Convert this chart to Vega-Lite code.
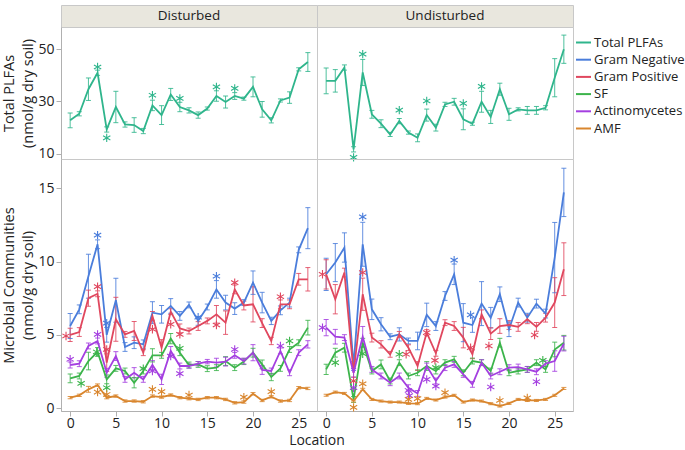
{
"$schema":"https://vega.github.io/schema/vega-lite/v6.json",
"padding":{"left":1,"top":4,"right":0,"bottom":0},
"config":{
 "font":"Open Sans",
 "view":{"stroke":"#c8c8c8"},
 "axis":{"grid":false,"domainColor":"#b0b0b0","tickColor":"#b0b0b0","labelColor":"#222","labelFontSize":14,"titleFontSize":14.5,"titleLineHeight":19,"titleFontWeight":"normal","titleColor":"#222","tickSize":5,"labelPadding":2,"titlePadding":2},
 "axisX":{"labelPadding":0}
},
"datasets":{
"tot":[
{"c":"D","x":0,"v":22.8,"lo":20.0,"hi":25.6},{"c":"D","x":1,"v":25.3,"lo":24.5,"hi":26.1},{"c":"D","x":2,"v":34.7,"lo":30.4,"hi":39.0},{"c":"D","x":3,"v":41.0,"lo":40.0,"hi":42.0},{"c":"D","x":4,"v":19.3,"lo":18.3,"hi":20.3},{"c":"D","x":5,"v":27.9,"lo":21.9,"hi":33.9},{"c":"D","x":6,"v":21.2,"lo":20.2,"hi":22.2},{"c":"D","x":7,"v":21.0,"lo":18.2,"hi":23.8},{"c":"D","x":8,"v":18.7,"lo":17.7,"hi":19.7},{"c":"D","x":9,"v":28.5,"lo":26.5,"hi":30.5},{"c":"D","x":10,"v":24.8,"lo":21.2,"hi":28.4},{"c":"D","x":11,"v":32.7,"lo":30.4,"hi":35.0},{"c":"D","x":12,"v":27.9,"lo":26.1,"hi":29.7},{"c":"D","x":13,"v":26.6,"lo":25.6,"hi":27.6},{"c":"D","x":14,"v":24.8,"lo":23.6,"hi":26.0},{"c":"D","x":15,"v":27.3,"lo":26.7,"hi":27.9},{"c":"D","x":16,"v":32.1,"lo":30.1,"hi":34.1},{"c":"D","x":17,"v":29.8,"lo":27.5,"hi":32.1},{"c":"D","x":18,"v":32.1,"lo":30.8,"hi":33.4},{"c":"D","x":19,"v":31.1,"lo":30.5,"hi":31.7},{"c":"D","x":20,"v":35.6,"lo":31.8,"hi":39.4},{"c":"D","x":21,"v":27.0,"lo":24.0,"hi":30.0},{"c":"D","x":22,"v":22.8,"lo":21.8,"hi":23.8},{"c":"D","x":23,"v":30.4,"lo":29.8,"hi":31.0},{"c":"D","x":24,"v":31.5,"lo":29.3,"hi":33.7},{"c":"D","x":25,"v":42.3,"lo":41.7,"hi":42.9},{"c":"D","x":26,"v":45.1,"lo":41.5,"hi":48.7},
{"c":"U","x":0,"v":37.9,"lo":33.0,"hi":42.8},{"c":"U","x":1,"v":37.9,"lo":33.6,"hi":42.2},{"c":"U","x":2,"v":43.0,"lo":42.0,"hi":44.0},{"c":"U","x":3,"v":11.7,"lo":10.7,"hi":12.7},{"c":"U","x":4,"v":41.1,"lo":36.1,"hi":46.1},{"c":"U","x":5,"v":25.1,"lo":23.6,"hi":26.6},{"c":"U","x":6,"v":21.5,"lo":20.0,"hi":23.0},{"c":"U","x":7,"v":17.4,"lo":16.6,"hi":18.2},{"c":"U","x":8,"v":22.5,"lo":21.5,"hi":23.5},{"c":"U","x":9,"v":18.1,"lo":17.5,"hi":18.7},{"c":"U","x":10,"v":16.1,"lo":14.6,"hi":17.6},{"c":"U","x":11,"v":24.8,"lo":22.5,"hi":27.1},{"c":"U","x":12,"v":20.0,"lo":18.7,"hi":21.3},{"c":"U","x":13,"v":28.9,"lo":28.1,"hi":29.7},{"c":"U","x":14,"v":29.9,"lo":28.6,"hi":31.2},{"c":"U","x":15,"v":23.2,"lo":19.2,"hi":27.2},{"c":"U","x":16,"v":21.5,"lo":20.9,"hi":22.1},{"c":"U","x":17,"v":29.9,"lo":25.9,"hi":33.9},{"c":"U","x":18,"v":24.1,"lo":21.6,"hi":26.6},{"c":"U","x":19,"v":34.7,"lo":32.4,"hi":37.0},{"c":"U","x":20,"v":25.1,"lo":22.8,"hi":27.4},{"c":"U","x":21,"v":27.0,"lo":26.4,"hi":27.6},{"c":"U","x":22,"v":26.6,"lo":25.1,"hi":28.1},{"c":"U","x":23,"v":26.6,"lo":25.1,"hi":28.1},{"c":"U","x":24,"v":27.6,"lo":26.8,"hi":28.4},{"c":"U","x":25,"v":39.1,"lo":31.8,"hi":46.4},{"c":"U","x":26,"v":50.0,"lo":44.6,"hi":55.4}
],
"com":[
{"c":"D","s":"Gram Negative","x":0,"v":5.6,"lo":4.75,"hi":6.45},{"c":"D","s":"Gram Negative","x":1,"v":6.74,"lo":6.44,"hi":7.04},{"c":"D","s":"Gram Negative","x":2,"v":9.0,"lo":7.5,"hi":10.5},{"c":"D","s":"Gram Negative","x":3,"v":11.18,"lo":10.88,"hi":11.48},{"c":"D","s":"Gram Negative","x":4,"v":5.0,"lo":4.5,"hi":5.5},{"c":"D","s":"Gram Negative","x":5,"v":7.36,"lo":5.86,"hi":8.86},{"c":"D","s":"Gram Negative","x":6,"v":4.17,"lo":3.87,"hi":4.47},{"c":"D","s":"Gram Negative","x":7,"v":4.46,"lo":4.06,"hi":4.86},{"c":"D","s":"Gram Negative","x":8,"v":4.35,"lo":4.05,"hi":4.65},{"c":"D","s":"Gram Negative","x":9,"v":6.51,"lo":5.76,"hi":7.26},{"c":"D","s":"Gram Negative","x":10,"v":6.4,"lo":5.8,"hi":7.0},{"c":"D","s":"Gram Negative","x":11,"v":6.97,"lo":6.47,"hi":7.47},{"c":"D","s":"Gram Negative","x":12,"v":6.29,"lo":5.99,"hi":6.59},{"c":"D","s":"Gram Negative","x":13,"v":7.04,"lo":6.84,"hi":7.24},{"c":"D","s":"Gram Negative","x":14,"v":5.95,"lo":5.65,"hi":6.25},{"c":"D","s":"Gram Negative","x":15,"v":6.9,"lo":6.7,"hi":7.1},{"c":"D","s":"Gram Negative","x":16,"v":8.1,"lo":7.5,"hi":8.7},{"c":"D","s":"Gram Negative","x":17,"v":7.2,"lo":6.7,"hi":7.7},{"c":"D","s":"Gram Negative","x":18,"v":6.79,"lo":6.39,"hi":7.19},{"c":"D","s":"Gram Negative","x":19,"v":7.2,"lo":7.0,"hi":7.4},{"c":"D","s":"Gram Negative","x":20,"v":8.56,"lo":7.76,"hi":9.36},{"c":"D","s":"Gram Negative","x":21,"v":7.2,"lo":6.5,"hi":7.9},{"c":"D","s":"Gram Negative","x":22,"v":5.95,"lo":5.7,"hi":6.2},{"c":"D","s":"Gram Negative","x":23,"v":6.67,"lo":6.37,"hi":6.97},{"c":"D","s":"Gram Negative","x":24,"v":7.2,"lo":6.9,"hi":7.5},{"c":"D","s":"Gram Negative","x":25,"v":10.8,"lo":10.6,"hi":11.0},{"c":"D","s":"Gram Negative","x":26,"v":12.28,"lo":10.88,"hi":13.68},
{"c":"D","s":"Gram Positive","x":0,"v":4.99,"lo":4.54,"hi":5.44},{"c":"D","s":"Gram Positive","x":1,"v":5.19,"lo":4.89,"hi":5.49},{"c":"D","s":"Gram Positive","x":2,"v":7.5,"lo":6.95,"hi":8.05},{"c":"D","s":"Gram Positive","x":3,"v":7.8,"lo":7.6,"hi":8.0},{"c":"D","s":"Gram Positive","x":4,"v":3.1,"lo":2.5,"hi":3.7},{"c":"D","s":"Gram Positive","x":5,"v":6.06,"lo":4.56,"hi":7.56},{"c":"D","s":"Gram Positive","x":6,"v":5.03,"lo":4.83,"hi":5.23},{"c":"D","s":"Gram Positive","x":7,"v":5.26,"lo":4.61,"hi":5.91},{"c":"D","s":"Gram Positive","x":8,"v":3.78,"lo":3.58,"hi":3.98},{"c":"D","s":"Gram Positive","x":9,"v":6.29,"lo":5.99,"hi":6.59},{"c":"D","s":"Gram Positive","x":10,"v":4.12,"lo":3.57,"hi":4.67},{"c":"D","s":"Gram Positive","x":11,"v":6.58,"lo":6.38,"hi":6.78},{"c":"D","s":"Gram Positive","x":12,"v":5.44,"lo":5.14,"hi":5.74},{"c":"D","s":"Gram Positive","x":13,"v":5.26,"lo":5.06,"hi":5.46},{"c":"D","s":"Gram Positive","x":14,"v":5.6,"lo":5.3,"hi":5.9},{"c":"D","s":"Gram Positive","x":15,"v":5.95,"lo":5.75,"hi":6.15},{"c":"D","s":"Gram Positive","x":16,"v":6.4,"lo":5.8,"hi":7.0},{"c":"D","s":"Gram Positive","x":17,"v":5.83,"lo":5.03,"hi":6.63},{"c":"D","s":"Gram Positive","x":18,"v":8.1,"lo":7.8,"hi":8.4},{"c":"D","s":"Gram Positive","x":19,"v":7.0,"lo":6.7,"hi":7.3},{"c":"D","s":"Gram Positive","x":20,"v":7.08,"lo":5.88,"hi":8.28},{"c":"D","s":"Gram Positive","x":21,"v":5.8,"lo":5.5,"hi":6.1},{"c":"D","s":"Gram Positive","x":22,"v":4.58,"lo":4.33,"hi":4.83},{"c":"D","s":"Gram Positive","x":23,"v":7.08,"lo":6.78,"hi":7.38},{"c":"D","s":"Gram Positive","x":24,"v":7.08,"lo":6.78,"hi":7.38},{"c":"D","s":"Gram Positive","x":25,"v":8.79,"lo":8.39,"hi":9.19},{"c":"D","s":"Gram Positive","x":26,"v":8.79,"lo":7.99,"hi":9.59},
{"c":"D","s":"SF","x":0,"v":2.03,"lo":1.73,"hi":2.33},{"c":"D","s":"SF","x":1,"v":2.19,"lo":1.99,"hi":2.39},{"c":"D","s":"SF","x":2,"v":3.21,"lo":2.61,"hi":3.81},{"c":"D","s":"SF","x":3,"v":3.83,"lo":3.53,"hi":4.13},{"c":"D","s":"SF","x":4,"v":1.96,"lo":1.66,"hi":2.26},{"c":"D","s":"SF","x":5,"v":2.71,"lo":2.51,"hi":2.91},{"c":"D","s":"SF","x":6,"v":2.53,"lo":2.33,"hi":2.73},{"c":"D","s":"SF","x":7,"v":1.73,"lo":1.38,"hi":2.08},{"c":"D","s":"SF","x":8,"v":2.53,"lo":2.33,"hi":2.73},{"c":"D","s":"SF","x":9,"v":3.6,"lo":3.15,"hi":4.05},{"c":"D","s":"SF","x":10,"v":3.6,"lo":3.4,"hi":3.8},{"c":"D","s":"SF","x":11,"v":4.74,"lo":4.39,"hi":5.09},{"c":"D","s":"SF","x":12,"v":3.78,"lo":3.58,"hi":3.98},{"c":"D","s":"SF","x":13,"v":2.94,"lo":2.74,"hi":3.14},{"c":"D","s":"SF","x":14,"v":2.98,"lo":2.78,"hi":3.18},{"c":"D","s":"SF","x":15,"v":2.69,"lo":2.49,"hi":2.89},{"c":"D","s":"SF","x":16,"v":2.76,"lo":2.56,"hi":2.96},{"c":"D","s":"SF","x":17,"v":3.21,"lo":2.91,"hi":3.51},{"c":"D","s":"SF","x":18,"v":2.76,"lo":2.56,"hi":2.96},{"c":"D","s":"SF","x":19,"v":3.17,"lo":2.97,"hi":3.37},{"c":"D","s":"SF","x":20,"v":3.78,"lo":3.48,"hi":4.08},{"c":"D","s":"SF","x":21,"v":2.98,"lo":2.68,"hi":3.28},{"c":"D","s":"SF","x":22,"v":2.12,"lo":1.87,"hi":2.37},{"c":"D","s":"SF","x":23,"v":2.71,"lo":2.51,"hi":2.91},{"c":"D","s":"SF","x":24,"v":4.0,"lo":3.8,"hi":4.2},{"c":"D","s":"SF","x":25,"v":4.46,"lo":4.26,"hi":4.66},{"c":"D","s":"SF","x":26,"v":5.49,"lo":4.99,"hi":5.99},
{"c":"D","s":"Actinomycetes","x":0,"v":2.94,"lo":2.74,"hi":3.14},{"c":"D","s":"Actinomycetes","x":1,"v":3.03,"lo":2.83,"hi":3.23},{"c":"D","s":"Actinomycetes","x":2,"v":4.24,"lo":4.04,"hi":4.44},{"c":"D","s":"Actinomycetes","x":3,"v":4.58,"lo":4.38,"hi":4.78},{"c":"D","s":"Actinomycetes","x":4,"v":2.41,"lo":2.11,"hi":2.71},{"c":"D","s":"Actinomycetes","x":5,"v":3.55,"lo":3.25,"hi":3.85},{"c":"D","s":"Actinomycetes","x":6,"v":1.96,"lo":1.76,"hi":2.16},{"c":"D","s":"Actinomycetes","x":7,"v":2.41,"lo":2.06,"hi":2.76},{"c":"D","s":"Actinomycetes","x":8,"v":1.96,"lo":1.76,"hi":2.16},{"c":"D","s":"Actinomycetes","x":9,"v":2.94,"lo":2.64,"hi":3.24},{"c":"D","s":"Actinomycetes","x":10,"v":1.96,"lo":1.61,"hi":2.31},{"c":"D","s":"Actinomycetes","x":11,"v":3.9,"lo":3.6,"hi":4.2},{"c":"D","s":"Actinomycetes","x":12,"v":2.87,"lo":2.67,"hi":3.07},{"c":"D","s":"Actinomycetes","x":13,"v":2.87,"lo":2.72,"hi":3.02},{"c":"D","s":"Actinomycetes","x":14,"v":3.03,"lo":2.88,"hi":3.18},{"c":"D","s":"Actinomycetes","x":15,"v":3.17,"lo":3.02,"hi":3.32},{"c":"D","s":"Actinomycetes","x":16,"v":3.1,"lo":2.8,"hi":3.4},{"c":"D","s":"Actinomycetes","x":17,"v":3.17,"lo":2.87,"hi":3.47},{"c":"D","s":"Actinomycetes","x":18,"v":3.6,"lo":3.4,"hi":3.8},{"c":"D","s":"Actinomycetes","x":19,"v":3.21,"lo":3.01,"hi":3.41},{"c":"D","s":"Actinomycetes","x":20,"v":3.78,"lo":3.23,"hi":4.33},{"c":"D","s":"Actinomycetes","x":21,"v":2.6,"lo":2.3,"hi":2.9},{"c":"D","s":"Actinomycetes","x":22,"v":2.53,"lo":2.33,"hi":2.73},{"c":"D","s":"Actinomycetes","x":23,"v":3.9,"lo":3.7,"hi":4.1},{"c":"D","s":"Actinomycetes","x":24,"v":2.41,"lo":2.21,"hi":2.61},{"c":"D","s":"Actinomycetes","x":25,"v":3.78,"lo":3.58,"hi":3.98},{"c":"D","s":"Actinomycetes","x":26,"v":4.35,"lo":4.1,"hi":4.6},
{"c":"D","s":"AMF","x":0,"v":0.71,"lo":0.63,"hi":0.79},{"c":"D","s":"AMF","x":1,"v":0.87,"lo":0.79,"hi":0.95},{"c":"D","s":"AMF","x":2,"v":1.28,"lo":1.08,"hi":1.48},{"c":"D","s":"AMF","x":3,"v":1.57,"lo":1.49,"hi":1.65},{"c":"D","s":"AMF","x":4,"v":0.71,"lo":0.63,"hi":0.79},{"c":"D","s":"AMF","x":5,"v":0.82,"lo":0.74,"hi":0.9},{"c":"D","s":"AMF","x":6,"v":0.48,"lo":0.4,"hi":0.56},{"c":"D","s":"AMF","x":7,"v":0.48,"lo":0.4,"hi":0.56},{"c":"D","s":"AMF","x":8,"v":0.43,"lo":0.35,"hi":0.51},{"c":"D","s":"AMF","x":9,"v":0.82,"lo":0.74,"hi":0.9},{"c":"D","s":"AMF","x":10,"v":0.75,"lo":0.67,"hi":0.83},{"c":"D","s":"AMF","x":11,"v":0.89,"lo":0.81,"hi":0.97},{"c":"D","s":"AMF","x":12,"v":0.71,"lo":0.63,"hi":0.79},{"c":"D","s":"AMF","x":13,"v":0.64,"lo":0.56,"hi":0.72},{"c":"D","s":"AMF","x":14,"v":0.59,"lo":0.51,"hi":0.67},{"c":"D","s":"AMF","x":15,"v":0.71,"lo":0.63,"hi":0.79},{"c":"D","s":"AMF","x":16,"v":0.71,"lo":0.63,"hi":0.79},{"c":"D","s":"AMF","x":17,"v":0.59,"lo":0.51,"hi":0.67},{"c":"D","s":"AMF","x":18,"v":0.36,"lo":0.28,"hi":0.44},{"c":"D","s":"AMF","x":19,"v":0.41,"lo":0.33,"hi":0.49},{"c":"D","s":"AMF","x":20,"v":0.98,"lo":0.9,"hi":1.06},{"c":"D","s":"AMF","x":21,"v":0.52,"lo":0.44,"hi":0.6},{"c":"D","s":"AMF","x":22,"v":0.77,"lo":0.69,"hi":0.85},{"c":"D","s":"AMF","x":23,"v":0.48,"lo":0.4,"hi":0.56},{"c":"D","s":"AMF","x":24,"v":0.52,"lo":0.44,"hi":0.6},{"c":"D","s":"AMF","x":25,"v":1.39,"lo":1.31,"hi":1.47},{"c":"D","s":"AMF","x":26,"v":1.34,"lo":1.26,"hi":1.42},
{"c":"U","s":"Gram Negative","x":0,"v":9.13,"lo":8.03,"hi":10.23},{"c":"U","s":"Gram Negative","x":1,"v":9.93,"lo":8.63,"hi":11.23},{"c":"U","s":"Gram Negative","x":2,"v":10.96,"lo":9.96,"hi":11.96},{"c":"U","s":"Gram Negative","x":3,"v":2.87,"lo":2.57,"hi":3.17},{"c":"U","s":"Gram Negative","x":4,"v":11.18,"lo":9.68,"hi":12.68},{"c":"U","s":"Gram Negative","x":5,"v":6.74,"lo":6.04,"hi":7.44},{"c":"U","s":"Gram Negative","x":6,"v":5.72,"lo":5.27,"hi":6.17},{"c":"U","s":"Gram Negative","x":7,"v":4.87,"lo":4.67,"hi":5.07},{"c":"U","s":"Gram Negative","x":8,"v":5.03,"lo":4.58,"hi":5.48},{"c":"U","s":"Gram Negative","x":9,"v":4.58,"lo":4.38,"hi":4.78},{"c":"U","s":"Gram Negative","x":10,"v":4.58,"lo":3.98,"hi":5.18},{"c":"U","s":"Gram Negative","x":11,"v":6.36,"lo":5.56,"hi":7.16},{"c":"U","s":"Gram Negative","x":12,"v":5.6,"lo":5.3,"hi":5.9},{"c":"U","s":"Gram Negative","x":13,"v":7.65,"lo":7.35,"hi":7.95},{"c":"U","s":"Gram Negative","x":14,"v":9.13,"lo":8.43,"hi":9.83},{"c":"U","s":"Gram Negative","x":15,"v":5.83,"lo":4.53,"hi":7.13},{"c":"U","s":"Gram Negative","x":16,"v":5.67,"lo":5.17,"hi":6.17},{"c":"U","s":"Gram Negative","x":17,"v":7.13,"lo":5.63,"hi":8.63},{"c":"U","s":"Gram Negative","x":18,"v":6.17,"lo":5.47,"hi":6.87},{"c":"U","s":"Gram Negative","x":19,"v":7.77,"lo":7.27,"hi":8.27},{"c":"U","s":"Gram Negative","x":20,"v":5.38,"lo":4.88,"hi":5.88},{"c":"U","s":"Gram Negative","x":21,"v":7.2,"lo":6.9,"hi":7.5},{"c":"U","s":"Gram Negative","x":22,"v":6.17,"lo":5.87,"hi":6.47},{"c":"U","s":"Gram Negative","x":23,"v":7.13,"lo":6.83,"hi":7.43},{"c":"U","s":"Gram Negative","x":24,"v":6.45,"lo":6.15,"hi":6.75},{"c":"U","s":"Gram Negative","x":25,"v":10.27,"lo":7.87,"hi":12.67},{"c":"U","s":"Gram Negative","x":26,"v":14.72,"lo":13.07,"hi":16.37},
{"c":"U","s":"Gram Positive","x":0,"v":9.13,"lo":8.13,"hi":10.13},{"c":"U","s":"Gram Positive","x":1,"v":7.43,"lo":6.43,"hi":8.43},{"c":"U","s":"Gram Positive","x":2,"v":9.25,"lo":8.95,"hi":9.55},{"c":"U","s":"Gram Positive","x":3,"v":2.41,"lo":2.11,"hi":2.71},{"c":"U","s":"Gram Positive","x":4,"v":7.77,"lo":6.67,"hi":8.87},{"c":"U","s":"Gram Positive","x":5,"v":4.81,"lo":4.51,"hi":5.11},{"c":"U","s":"Gram Positive","x":6,"v":4.35,"lo":4.1,"hi":4.6},{"c":"U","s":"Gram Positive","x":7,"v":3.67,"lo":3.47,"hi":3.87},{"c":"U","s":"Gram Positive","x":8,"v":5.03,"lo":4.83,"hi":5.23},{"c":"U","s":"Gram Positive","x":9,"v":4.12,"lo":3.92,"hi":4.32},{"c":"U","s":"Gram Positive","x":10,"v":2.87,"lo":2.57,"hi":3.17},{"c":"U","s":"Gram Positive","x":11,"v":5.15,"lo":4.95,"hi":5.35},{"c":"U","s":"Gram Positive","x":12,"v":3.74,"lo":3.54,"hi":3.94},{"c":"U","s":"Gram Positive","x":13,"v":5.83,"lo":5.63,"hi":6.03},{"c":"U","s":"Gram Positive","x":14,"v":5.6,"lo":5.3,"hi":5.9},{"c":"U","s":"Gram Positive","x":15,"v":4.81,"lo":4.11,"hi":5.51},{"c":"U","s":"Gram Positive","x":16,"v":3.67,"lo":3.37,"hi":3.97},{"c":"U","s":"Gram Positive","x":17,"v":6.4,"lo":6.1,"hi":6.7},{"c":"U","s":"Gram Positive","x":18,"v":5.08,"lo":4.68,"hi":5.48},{"c":"U","s":"Gram Positive","x":19,"v":5.6,"lo":5.1,"hi":6.1},{"c":"U","s":"Gram Positive","x":20,"v":5.67,"lo":5.37,"hi":5.97},{"c":"U","s":"Gram Positive","x":21,"v":5.54,"lo":5.24,"hi":5.84},{"c":"U","s":"Gram Positive","x":22,"v":6.06,"lo":5.76,"hi":6.36},{"c":"U","s":"Gram Positive","x":23,"v":5.54,"lo":5.24,"hi":5.84},{"c":"U","s":"Gram Positive","x":24,"v":6.17,"lo":5.87,"hi":6.47},{"c":"U","s":"Gram Positive","x":25,"v":7.2,"lo":5.5,"hi":8.9},{"c":"U","s":"Gram Positive","x":26,"v":9.48,"lo":7.68,"hi":11.28},
{"c":"U","s":"SF","x":0,"v":2.64,"lo":2.29,"hi":2.99},{"c":"U","s":"SF","x":1,"v":3.78,"lo":3.48,"hi":4.08},{"c":"U","s":"SF","x":2,"v":4.12,"lo":3.82,"hi":4.42},{"c":"U","s":"SF","x":3,"v":0.59,"lo":0.39,"hi":0.79},{"c":"U","s":"SF","x":4,"v":4.46,"lo":4.16,"hi":4.76},{"c":"U","s":"SF","x":5,"v":2.53,"lo":2.33,"hi":2.73},{"c":"U","s":"SF","x":6,"v":2.98,"lo":2.68,"hi":3.28},{"c":"U","s":"SF","x":7,"v":1.85,"lo":1.65,"hi":2.05},{"c":"U","s":"SF","x":8,"v":3.1,"lo":2.9,"hi":3.3},{"c":"U","s":"SF","x":9,"v":2.19,"lo":1.99,"hi":2.39},{"c":"U","s":"SF","x":10,"v":2.41,"lo":2.21,"hi":2.61},{"c":"U","s":"SF","x":11,"v":2.87,"lo":2.57,"hi":3.17},{"c":"U","s":"SF","x":12,"v":2.53,"lo":2.33,"hi":2.73},{"c":"U","s":"SF","x":13,"v":3.1,"lo":2.9,"hi":3.3},{"c":"U","s":"SF","x":14,"v":3.33,"lo":3.13,"hi":3.53},{"c":"U","s":"SF","x":15,"v":2.41,"lo":2.21,"hi":2.61},{"c":"U","s":"SF","x":16,"v":3.21,"lo":3.01,"hi":3.41},{"c":"U","s":"SF","x":17,"v":3.1,"lo":2.9,"hi":3.3},{"c":"U","s":"SF","x":18,"v":2.53,"lo":2.33,"hi":2.73},{"c":"U","s":"SF","x":19,"v":4.46,"lo":4.16,"hi":4.76},{"c":"U","s":"SF","x":20,"v":2.41,"lo":2.21,"hi":2.61},{"c":"U","s":"SF","x":21,"v":2.53,"lo":2.33,"hi":2.73},{"c":"U","s":"SF","x":22,"v":2.64,"lo":2.44,"hi":2.84},{"c":"U","s":"SF","x":23,"v":3.1,"lo":2.9,"hi":3.3},{"c":"U","s":"SF","x":24,"v":2.64,"lo":2.44,"hi":2.84},{"c":"U","s":"SF","x":25,"v":4.0,"lo":3.5,"hi":4.5},{"c":"U","s":"SF","x":26,"v":4.46,"lo":3.96,"hi":4.96},
{"c":"U","s":"Actinomycetes","x":0,"v":5.49,"lo":4.94,"hi":6.04},{"c":"U","s":"Actinomycetes","x":1,"v":4.87,"lo":4.37,"hi":5.37},{"c":"U","s":"Actinomycetes","x":2,"v":4.81,"lo":4.61,"hi":5.01},{"c":"U","s":"Actinomycetes","x":3,"v":2.41,"lo":2.11,"hi":2.71},{"c":"U","s":"Actinomycetes","x":4,"v":4.87,"lo":4.17,"hi":5.57},{"c":"U","s":"Actinomycetes","x":5,"v":2.64,"lo":2.44,"hi":2.84},{"c":"U","s":"Actinomycetes","x":6,"v":2.19,"lo":1.99,"hi":2.39},{"c":"U","s":"Actinomycetes","x":7,"v":1.73,"lo":1.53,"hi":1.93},{"c":"U","s":"Actinomycetes","x":8,"v":2.19,"lo":1.99,"hi":2.39},{"c":"U","s":"Actinomycetes","x":9,"v":1.39,"lo":1.19,"hi":1.59},{"c":"U","s":"Actinomycetes","x":10,"v":1.0,"lo":0.8,"hi":1.2},{"c":"U","s":"Actinomycetes","x":11,"v":2.87,"lo":2.67,"hi":3.07},{"c":"U","s":"Actinomycetes","x":12,"v":1.85,"lo":1.65,"hi":2.05},{"c":"U","s":"Actinomycetes","x":13,"v":2.76,"lo":2.56,"hi":2.96},{"c":"U","s":"Actinomycetes","x":14,"v":2.98,"lo":2.78,"hi":3.18},{"c":"U","s":"Actinomycetes","x":15,"v":2.3,"lo":2.1,"hi":2.5},{"c":"U","s":"Actinomycetes","x":16,"v":1.62,"lo":1.42,"hi":1.82},{"c":"U","s":"Actinomycetes","x":17,"v":3.1,"lo":2.9,"hi":3.3},{"c":"U","s":"Actinomycetes","x":18,"v":2.19,"lo":1.99,"hi":2.39},{"c":"U","s":"Actinomycetes","x":19,"v":2.48,"lo":2.28,"hi":2.68},{"c":"U","s":"Actinomycetes","x":20,"v":2.76,"lo":2.56,"hi":2.96},{"c":"U","s":"Actinomycetes","x":21,"v":2.8,"lo":2.6,"hi":3.0},{"c":"U","s":"Actinomycetes","x":22,"v":2.64,"lo":2.44,"hi":2.84},{"c":"U","s":"Actinomycetes","x":23,"v":2.48,"lo":2.28,"hi":2.68},{"c":"U","s":"Actinomycetes","x":24,"v":3.03,"lo":2.83,"hi":3.23},{"c":"U","s":"Actinomycetes","x":25,"v":3.21,"lo":2.51,"hi":3.91},{"c":"U","s":"Actinomycetes","x":26,"v":4.4,"lo":3.9,"hi":4.9},
{"c":"U","s":"AMF","x":0,"v":0.87,"lo":0.8,"hi":0.94},{"c":"U","s":"AMF","x":1,"v":1.09,"lo":1.02,"hi":1.16},{"c":"U","s":"AMF","x":2,"v":1.0,"lo":0.93,"hi":1.07},{"c":"U","s":"AMF","x":3,"v":0.48,"lo":0.41,"hi":0.55},{"c":"U","s":"AMF","x":4,"v":1.28,"lo":1.21,"hi":1.35},{"c":"U","s":"AMF","x":5,"v":0.59,"lo":0.52,"hi":0.66},{"c":"U","s":"AMF","x":6,"v":0.48,"lo":0.41,"hi":0.55},{"c":"U","s":"AMF","x":7,"v":0.41,"lo":0.34,"hi":0.48},{"c":"U","s":"AMF","x":8,"v":0.41,"lo":0.34,"hi":0.48},{"c":"U","s":"AMF","x":9,"v":0.32,"lo":0.25,"hi":0.39},{"c":"U","s":"AMF","x":10,"v":0.3,"lo":0.23,"hi":0.37},{"c":"U","s":"AMF","x":11,"v":0.66,"lo":0.59,"hi":0.73},{"c":"U","s":"AMF","x":12,"v":0.55,"lo":0.48,"hi":0.62},{"c":"U","s":"AMF","x":13,"v":0.75,"lo":0.68,"hi":0.82},{"c":"U","s":"AMF","x":14,"v":0.87,"lo":0.8,"hi":0.94},{"c":"U","s":"AMF","x":15,"v":0.41,"lo":0.34,"hi":0.48},{"c":"U","s":"AMF","x":16,"v":0.55,"lo":0.48,"hi":0.62},{"c":"U","s":"AMF","x":17,"v":0.48,"lo":0.41,"hi":0.55},{"c":"U","s":"AMF","x":18,"v":0.3,"lo":0.23,"hi":0.37},{"c":"U","s":"AMF","x":19,"v":0.14,"lo":0.07,"hi":0.21},{"c":"U","s":"AMF","x":20,"v":0.32,"lo":0.25,"hi":0.39},{"c":"U","s":"AMF","x":21,"v":0.59,"lo":0.52,"hi":0.66},{"c":"U","s":"AMF","x":22,"v":0.52,"lo":0.45,"hi":0.59},{"c":"U","s":"AMF","x":23,"v":0.52,"lo":0.45,"hi":0.59},{"c":"U","s":"AMF","x":24,"v":0.59,"lo":0.52,"hi":0.66},{"c":"U","s":"AMF","x":25,"v":0.87,"lo":0.8,"hi":0.94},{"c":"U","s":"AMF","x":26,"v":1.34,"lo":1.27,"hi":1.41}
],
"ast":[
{"p":"TD","s":"Total PLFAs","x":3,"v":43.2},{"p":"TD","s":"Total PLFAs","x":4,"v":16.1},{"p":"TD","s":"Total PLFAs","x":9,"v":32.4},{"p":"TD","s":"Total PLFAs","x":12,"v":31.2},{"p":"TD","s":"Total PLFAs","x":16,"v":35.6},{"p":"TD","s":"Total PLFAs","x":18,"v":35.0},
{"p":"TU","s":"Total PLFAs","x":3,"v":8.6},{"p":"TU","s":"Total PLFAs","x":4,"v":48.1},{"p":"TU","s":"Total PLFAs","x":8,"v":26.7},{"p":"TU","s":"Total PLFAs","x":11,"v":30.2},{"p":"TU","s":"Total PLFAs","x":15,"v":29.3},{"p":"TU","s":"Total PLFAs","x":17,"v":35.8},
{"p":"BD","s":"Gram Negative","x":3,"v":11.8},{"p":"BD","s":"Gram Negative","x":4,"v":5.8},{"p":"BD","s":"Gram Negative","x":14,"v":6.2},{"p":"BD","s":"Gram Negative","x":16,"v":9.0},
{"p":"BD","s":"Gram Positive","x":-0.45,"v":4.92},{"p":"BD","s":"Gram Positive","x":3,"v":8.29},{"p":"BD","s":"Gram Positive","x":4,"v":4.0},{"p":"BD","s":"Gram Positive","x":9,"v":5.38},{"p":"BD","s":"Gram Positive","x":11,"v":5.72},{"p":"BD","s":"Gram Positive","x":12,"v":5.03},{"p":"BD","s":"Gram Positive","x":16,"v":5.67},{"p":"BD","s":"Gram Positive","x":18,"v":8.56},{"p":"BD","s":"Gram Positive","x":23,"v":7.6},
{"p":"BD","s":"SF","x":1.2,"v":1.69},{"p":"BD","s":"SF","x":2.9,"v":3.83},{"p":"BD","s":"SF","x":4,"v":1.39},{"p":"BD","s":"SF","x":8,"v":2.69},{"p":"BD","s":"SF","x":12,"v":4.08},{"p":"BD","s":"SF","x":24,"v":4.58},
{"p":"BD","s":"Actinomycetes","x":0,"v":3.33},{"p":"BD","s":"Actinomycetes","x":3,"v":5.03},{"p":"BD","s":"Actinomycetes","x":9,"v":2.53},{"p":"BD","s":"Actinomycetes","x":11,"v":3.55},{"p":"BD","s":"Actinomycetes","x":12,"v":2.35},{"p":"BD","s":"Actinomycetes","x":18,"v":4.0},{"p":"BD","s":"Actinomycetes","x":23,"v":4.24},
{"p":"BD","s":"AMF","x":3,"v":1.09},{"p":"BD","s":"AMF","x":4,"v":0.93},{"p":"BD","s":"AMF","x":9,"v":1.28},{"p":"BD","s":"AMF","x":10,"v":1.12},{"p":"BD","s":"AMF","x":13,"v":0.89},{"p":"BD","s":"AMF","x":19,"v":0.75},{"p":"BD","s":"AMF","x":22,"v":1.12},
{"p":"BU","s":"Gram Negative","x":4,"v":13.05},{"p":"BU","s":"Gram Negative","x":14,"v":10.1},{"p":"BU","s":"Gram Negative","x":15.8,"v":6.36},
{"p":"BU","s":"Gram Positive","x":-0.4,"v":9.13},{"p":"BU","s":"Gram Positive","x":3,"v":1.85},{"p":"BU","s":"Gram Positive","x":4,"v":9.25},{"p":"BU","s":"Gram Positive","x":8.75,"v":3.67},{"p":"BU","s":"Gram Positive","x":11,"v":5.15},{"p":"BU","s":"Gram Positive","x":11.9,"v":3.26},{"p":"BU","s":"Gram Positive","x":15.8,"v":4.12},{"p":"BU","s":"Gram Positive","x":17.8,"v":4.24},{"p":"BU","s":"Gram Positive","x":22.8,"v":4.99},
{"p":"BU","s":"SF","x":1,"v":3.1},{"p":"BU","s":"SF","x":4,"v":3.71},{"p":"BU","s":"SF","x":8,"v":3.67},{"p":"BU","s":"SF","x":12,"v":2.76},{"p":"BU","s":"SF","x":23.7,"v":3.26},
{"p":"BU","s":"Actinomycetes","x":-0.4,"v":5.49},{"p":"BU","s":"Actinomycetes","x":3,"v":1.39},{"p":"BU","s":"Actinomycetes","x":9,"v":1.2},{"p":"BU","s":"Actinomycetes","x":9.1,"v":0.85},{"p":"BU","s":"Actinomycetes","x":11,"v":1.96},{"p":"BU","s":"Actinomycetes","x":12,"v":1.5},{"p":"BU","s":"Actinomycetes","x":18,"v":1.44},{"p":"BU","s":"Actinomycetes","x":23,"v":1.8},
{"p":"BU","s":"AMF","x":3,"v":0.05},{"p":"BU","s":"AMF","x":4,"v":1.66},{"p":"BU","s":"AMF","x":9,"v":0.59},{"p":"BU","s":"AMF","x":10,"v":0.64},{"p":"BU","s":"AMF","x":13,"v":1.05},{"p":"BU","s":"AMF","x":19,"v":0.52},{"p":"BU","s":"AMF","x":22,"v":0.7}
]
},
"spacing":0,
"vconcat":[
{"columns":2,"spacing":0,"bounds":"flush",
"concat":[
  {"width":256,"height":22,"view":{"fill":"#e9e7de","stroke":"#c8c8c8"},"data":{"values":[{"h":"Disturbed"}]},"mark":{"type":"text","fontSize":13.5,"color":"#222","baseline":"middle"},"encoding":{"text":{"field":"h"}}},
  {"width":256,"height":22,"view":{"fill":"#e9e7de","stroke":"#c8c8c8"},"data":{"values":[{"h":"Undisturbed"}]},"mark":{"type":"text","fontSize":13.5,"color":"#222","baseline":"middle"},"encoding":{"text":{"field":"h"}}},
  {"width":256,"height":132,
   "layer":[
    {"data":{"name":"tot"},"transform":[{"filter":"datum.c==='D'"}],"mark":{"type":"rule","strokeWidth":1,"color":"#2fb58c","opacity":0.85},"encoding":{"x":{"field":"x","type":"quantitative","scale":{"domain":[-1,27],"nice":false,"zero":false},"axis":null},"y":{"field":"lo","type":"quantitative","scale":{"domain":[8,58.5],"nice":false,"zero":false},"axis":{"title":["Total PLFAs","(nmol/g dry soil)"],"values":[10,20,30,40,50]}},"y2":{"field":"hi"}}},
    {"data":{"name":"tot"},"transform":[{"filter":"datum.c==='D'"}],"mark":{"type":"tick","orient":"horizontal","size":5,"thickness":1,"color":"#2fb58c","opacity":0.85},"encoding":{"x":{"field":"x","type":"quantitative"},"y":{"field":"lo","type":"quantitative"}}},
    {"data":{"name":"tot"},"transform":[{"filter":"datum.c==='D'"}],"mark":{"type":"tick","orient":"horizontal","size":5,"thickness":1,"color":"#2fb58c","opacity":0.85},"encoding":{"x":{"field":"x","type":"quantitative"},"y":{"field":"hi","type":"quantitative"}}},
    {"data":{"name":"tot"},"transform":[{"filter":"datum.c==='D'"}],"mark":{"type":"line","strokeWidth":1.8},"encoding":{"x":{"field":"x","type":"quantitative"},"y":{"field":"v","type":"quantitative"},"color":{"datum":"Total PLFAs","type":"nominal","title":null,"scale":{"domain":["Total PLFAs","Gram Negative","Gram Positive","SF","Actinomycetes","AMF"],"range":["#2fb58c","#4a7ddb","#e0475e","#3cb44b","#a43fe0","#d9862e"]},"legend":{"title":null,"orient":"none","legendX":514,"legendY":29,"symbolType":"stroke","symbolStrokeWidth":2,"symbolSize":225,"labelFontSize":13,"labelColor":"#222","rowPadding":1.2,"labelOffset":2}}}},
    {"data":{"name":"ast"},"transform":[{"filter":"datum.p==='TD'"}],"mark":{"type":"point","shape":"M0,-1L0,1M-0.87,-0.5L0.87,0.5M-0.87,0.5L0.87,-0.5","filled":false,"size":70,"strokeWidth":1.1,"opacity":1},"encoding":{"x":{"field":"x","type":"quantitative"},"y":{"field":"v","type":"quantitative"},"color":{"field":"s","type":"nominal","title":null,"legend":{"title":null,"orient":"none","legendX":514,"legendY":29,"symbolType":"stroke","symbolStrokeWidth":2,"symbolSize":225,"labelFontSize":13,"labelColor":"#222","rowPadding":1.2,"labelOffset":2}}}}
   ]},
  {"width":256,"height":132,
   "layer":[
    {"data":{"name":"tot"},"transform":[{"filter":"datum.c==='U'"}],"mark":{"type":"rule","strokeWidth":1,"color":"#2fb58c","opacity":0.85},"encoding":{"x":{"field":"x","type":"quantitative","scale":{"domain":[-1,27],"nice":false,"zero":false},"axis":null},"y":{"field":"lo","type":"quantitative","scale":{"domain":[8,58.5],"nice":false,"zero":false},"axis":null},"y2":{"field":"hi"}}},
    {"data":{"name":"tot"},"transform":[{"filter":"datum.c==='U'"}],"mark":{"type":"tick","orient":"horizontal","size":5,"thickness":1,"color":"#2fb58c","opacity":0.85},"encoding":{"x":{"field":"x","type":"quantitative"},"y":{"field":"lo","type":"quantitative"}}},
    {"data":{"name":"tot"},"transform":[{"filter":"datum.c==='U'"}],"mark":{"type":"tick","orient":"horizontal","size":5,"thickness":1,"color":"#2fb58c","opacity":0.85},"encoding":{"x":{"field":"x","type":"quantitative"},"y":{"field":"hi","type":"quantitative"}}},
    {"data":{"name":"tot"},"transform":[{"filter":"datum.c==='U'"}],"mark":{"type":"line","strokeWidth":1.8,"color":"#2fb58c"},"encoding":{"x":{"field":"x","type":"quantitative"},"y":{"field":"v","type":"quantitative"}}},
    {"data":{"name":"ast"},"transform":[{"filter":"datum.p==='TU'"}],"mark":{"type":"point","shape":"M0,-1L0,1M-0.87,-0.5L0.87,0.5M-0.87,0.5L0.87,-0.5","filled":false,"size":70,"strokeWidth":1.1,"opacity":1},"encoding":{"x":{"field":"x","type":"quantitative"},"y":{"field":"v","type":"quantitative"},"color":{"field":"s","type":"nominal","title":null,"legend":{"title":null,"orient":"none","legendX":514,"legendY":29,"symbolType":"stroke","symbolStrokeWidth":2,"symbolSize":225,"labelFontSize":13,"labelColor":"#222","rowPadding":1.2,"labelOffset":2}}}}
   ]},
  {"width":256,"height":252,
   "encoding":{"color":{"field":"s","type":"nominal","title":null,"legend":{"title":null,"orient":"none","legendX":514,"legendY":29,"symbolType":"stroke","symbolStrokeWidth":2,"symbolSize":225,"labelFontSize":13,"labelColor":"#222","rowPadding":1.2,"labelOffset":2}}},
   "layer":[
    {"data":{"name":"com"},"transform":[{"filter":"datum.c==='D'"}],"mark":{"type":"rule","strokeWidth":1,"opacity":0.85},"encoding":{"x":{"field":"x","type":"quantitative","scale":{"domain":[-1,27],"nice":false,"zero":false},"axis":{"values":[0,5,10,15,20,25],"title":null}},"y":{"field":"lo","type":"quantitative","scale":{"domain":[-0.2,17],"nice":false,"zero":false},"axis":{"title":["Microbial Communities","(nmol/g dry soil)"],"values":[0,5,10,15]}},"y2":{"field":"hi"}}},
    {"data":{"name":"com"},"transform":[{"filter":"datum.c==='D'"}],"mark":{"type":"tick","orient":"horizontal","size":5,"thickness":1,"opacity":0.85},"encoding":{"x":{"field":"x","type":"quantitative"},"y":{"field":"lo","type":"quantitative"}}},
    {"data":{"name":"com"},"transform":[{"filter":"datum.c==='D'"}],"mark":{"type":"tick","orient":"horizontal","size":5,"thickness":1,"opacity":0.85},"encoding":{"x":{"field":"x","type":"quantitative"},"y":{"field":"hi","type":"quantitative"}}},
    {"data":{"name":"com"},"transform":[{"filter":"datum.c==='D'"}],"mark":{"type":"line","strokeWidth":1.8},"encoding":{"x":{"field":"x","type":"quantitative"},"y":{"field":"v","type":"quantitative"}}},
    {"data":{"name":"ast"},"transform":[{"filter":"datum.p==='BD'"}],"mark":{"type":"point","shape":"M0,-1L0,1M-0.87,-0.5L0.87,0.5M-0.87,0.5L0.87,-0.5","filled":false,"size":70,"strokeWidth":1.1,"opacity":1},"encoding":{"x":{"field":"x","type":"quantitative"},"y":{"field":"v","type":"quantitative"}}}
   ]},
  {"width":256,"height":252,
   "encoding":{"color":{"field":"s","type":"nominal","title":null,"legend":{"title":null,"orient":"none","legendX":514,"legendY":29,"symbolType":"stroke","symbolStrokeWidth":2,"symbolSize":225,"labelFontSize":13,"labelColor":"#222","rowPadding":1.2,"labelOffset":2}}},
   "layer":[
    {"data":{"name":"com"},"transform":[{"filter":"datum.c==='U'"}],"mark":{"type":"rule","strokeWidth":1,"opacity":0.85},"encoding":{"x":{"field":"x","type":"quantitative","scale":{"domain":[-1,27],"nice":false,"zero":false},"axis":{"values":[0,5,10,15,20,25],"title":null}},"y":{"field":"lo","type":"quantitative","scale":{"domain":[-0.2,17],"nice":false,"zero":false},"axis":null},"y2":{"field":"hi"}}},
    {"data":{"name":"com"},"transform":[{"filter":"datum.c==='U'"}],"mark":{"type":"tick","orient":"horizontal","size":5,"thickness":1,"opacity":0.85},"encoding":{"x":{"field":"x","type":"quantitative"},"y":{"field":"lo","type":"quantitative"}}},
    {"data":{"name":"com"},"transform":[{"filter":"datum.c==='U'"}],"mark":{"type":"tick","orient":"horizontal","size":5,"thickness":1,"opacity":0.85},"encoding":{"x":{"field":"x","type":"quantitative"},"y":{"field":"hi","type":"quantitative"}}},
    {"data":{"name":"com"},"transform":[{"filter":"datum.c==='U'"}],"mark":{"type":"line","strokeWidth":1.8},"encoding":{"x":{"field":"x","type":"quantitative"},"y":{"field":"v","type":"quantitative"}}},
    {"data":{"name":"ast"},"transform":[{"filter":"datum.p==='BU'"}],"mark":{"type":"point","shape":"M0,-1L0,1M-0.87,-0.5L0.87,0.5M-0.87,0.5L0.87,-0.5","filled":false,"size":70,"strokeWidth":1.1,"opacity":1},"encoding":{"x":{"field":"x","type":"quantitative"},"y":{"field":"v","type":"quantitative"}}}
   ]}
]},
{"width":512,"height":20,"view":{"stroke":null},"data":{"values":[{"t":"Location"}]},"mark":{"type":"text","fontSize":14,"color":"#222","baseline":"middle"},"encoding":{"text":{"field":"t"}}}
]
}
